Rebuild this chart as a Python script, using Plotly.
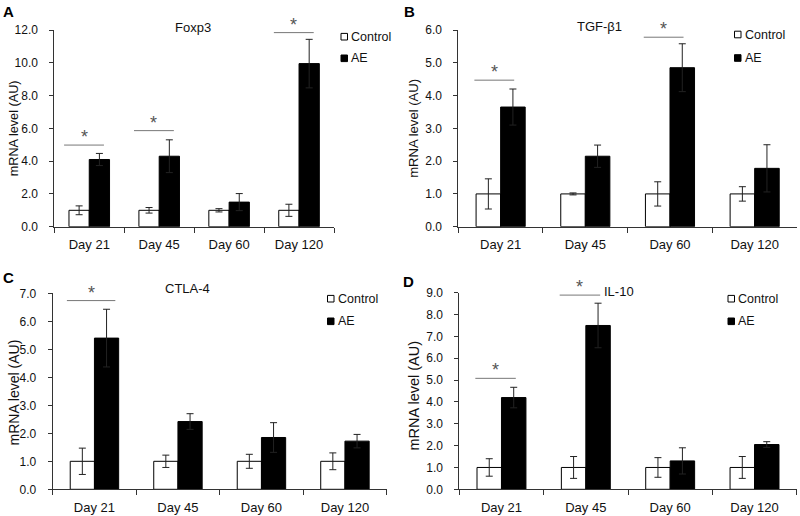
import plotly.graph_objects as go

# ---------------- data ----------------
days = ["Day 21", "Day 45", "Day 60", "Day 120"]

foxp3_ctrl = [1.0, 1.0, 1.0, 1.0]
foxp3_ctrl_err = [0.27, 0.17, 0.10, 0.37]
foxp3_ae = [4.10, 4.30, 1.50, 9.95]
foxp3_ae_err = [0.37, 1.00, 0.52, 1.48]

tgf_ctrl = [1.0, 1.0, 1.0, 1.0]
tgf_ctrl_err = [0.46, 0.03, 0.37, 0.22]
tgf_ae = [3.65, 2.15, 4.85, 1.78]
tgf_ae_err = [0.55, 0.34, 0.73, 0.72]

ctla_ctrl = [1.0, 1.0, 1.0, 1.0]
ctla_ctrl_err = [0.47, 0.22, 0.25, 0.30]
ctla_ae = [5.40, 2.42, 1.85, 1.72]
ctla_ae_err = [1.03, 0.28, 0.53, 0.24]

il10_ctrl = [1.0, 1.0, 1.0, 1.0]
il10_ctrl_err = [0.40, 0.50, 0.45, 0.50]
il10_ae = [4.20, 7.50, 1.30, 2.05]
il10_ae_err = [0.47, 1.02, 0.60, 0.13]

# significance: (day index, bracket height)
foxp3_sig = [(0, 4.98), (1, 5.86), (3, 11.84)]
tgf_sig = [(0, 4.47), (2, 5.78)]
ctla_sig = [(0, 6.74)]
il10_sig = [(0, 5.08), (1, 8.89)]

y_ranges = [12, 6, 7, 9]
y_dticks = [2, 1, 1, 1]
titles = ["Foxp3", "TGF-β1", "CTLA-4", "IL-10"]
letters = ["A", "B", "C", "D"]

# ---------------- layout geometry (px) ----------------
W, H = 800, 516
panels = [
    dict(x0=54.3, x1=334.0, yt=30.0, yb=226.7, title_xy=(193, 28), letter_xy=(8, 11),
         ytitle=(14.0, 128.3, 12.7), leg=(341, 36.7, 58.3), sig_off=(-0.36, 0.21)),
    dict(x0=458.3, x1=797.0, yt=30.0, yb=226.7, title_xy=(599, 27), letter_xy=(409, 11),
         ytitle=(413.5, 128.3, 13.1), leg=(734.5, 34.5, 58.0), sig_off=(-0.31, 0.16)),
    dict(x0=52.7, x1=386.7, yt=293.3, yb=489.3, title_xy=(187.5, 288.3), letter_xy=(8, 277),
         ytitle=(13.0, 392.5, 14.0), leg=(327.5, 298.7, 321.3), sig_off=(-0.33, 0.25)),
    dict(x0=459.3, x1=796.7, yt=292.7, yb=489.3, title_xy=(618.5, 291), letter_xy=(408, 281),
         ytitle=(413.0, 395.5, 14.5), leg=(728, 298.7, 321.3), sig_off=(-0.31, 0.17)),
]

series = [
    (foxp3_ctrl, foxp3_ctrl_err, foxp3_ae, foxp3_ae_err, foxp3_sig),
    (tgf_ctrl, tgf_ctrl_err, tgf_ae, tgf_ae_err, tgf_sig),
    (ctla_ctrl, ctla_ctrl_err, ctla_ae, ctla_ae_err, ctla_sig),
    (il10_ctrl, il10_ctrl_err, il10_ae, il10_ae_err, il10_sig),
]

FONT = "Liberation Sans, Arial, sans-serif"
AXC = "#333333"
fig = go.Figure()
shapes = []
annotations = []
layout = {}

for i, (p, (c, ce, a, ae, sig)) in enumerate(zip(panels, series)):
    n = "" if i == 0 else str(i + 1)
    xa, ya = "x" + n, "y" + n
    err_style = dict(type="data", thickness=1, width=3.5, color="#222222")
    fig.add_trace(go.Bar(x=days, y=c, name="Control", xaxis=xa, yaxis=ya,
                         marker=dict(color="white", line=dict(color="black", width=1)),
                         error_y=dict(array=ce, **err_style), showlegend=False))
    fig.add_trace(go.Bar(x=days, y=a, name="AE", xaxis=xa, yaxis=ya,
                         marker=dict(color="black", line=dict(color="black", width=1)),
                         error_y=dict(array=ae, **err_style), showlegend=False))

    layout["xaxis" + n] = dict(
        domain=[p["x0"] / W, p["x1"] / W], anchor=ya, type="category",
        showline=True, linecolor=AXC, linewidth=1, ticks="outside", tickson="boundaries",
        ticklen=5, tickcolor=AXC, tickfont=dict(size=13, color="#111", family=FONT),
        showgrid=False, zeroline=False, ticklabelstandoff=6, fixedrange=True,
        automargin=False,
    )
    layout["yaxis" + n] = dict(
        domain=[1 - p["yb"] / H, 1 - p["yt"] / H], anchor=xa,
        range=[0, y_ranges[i]], dtick=y_dticks[i], tick0=0, tickformat=".1f",
        showline=True, linecolor=AXC, linewidth=1, ticks="outside", ticklen=4,
        tickcolor=AXC, tickfont=dict(size=12, color="#111", family=FONT),
        showgrid=False, zeroline=False, ticklabelstandoff=9, fixedrange=True,
        automargin=False,
    )

    # significance brackets + stars
    o0, o1 = p["sig_off"]
    for (d, h) in sig:
        shapes.append(dict(type="line", xref=xa, yref=ya, x0=d + o0, x1=d + o1, y0=h, y1=h,
                           line=dict(color="#777777", width=1)))
        annotations.append(dict(xref=xa, yref=ya, x=d + (o0 + o1) / 2, y=h, text="*",
                                showarrow=False, yanchor="bottom", yshift=-4,
                                font=dict(size=18, color="#555555", family=FONT)))

    # panel title
    tx, ty = p["title_xy"]
    annotations.append(dict(xref="paper", yref="paper", x=tx / W, y=1 - ty / H, text=titles[i],
                            showarrow=False, xanchor="center", yanchor="middle",
                            font=dict(size=13, color="#111", family=FONT)))
    # panel letter
    lx, ly = p["letter_xy"]
    annotations.append(dict(xref="paper", yref="paper", x=lx / W, y=1 - ly / H,
                            text="<b>" + letters[i] + "</b>", showarrow=False,
                            xanchor="center", yanchor="middle",
                            font=dict(size=15, color="black", family=FONT)))
    # y-axis title
    yx, yy_c, yfs = p["ytitle"]
    annotations.append(dict(xref="paper", yref="paper", x=yx / W, y=1 - yy_c / H,
                            text="mRNA level (AU)",
                            textangle=-90, showarrow=False, xanchor="center", yanchor="middle",
                            font=dict(size=yfs, color="#111", family=FONT)))
    # legend
    sx, cy, ay = p["leg"]
    for yy, fill, label in [(cy, "white", "Control"), (ay, "black", "AE")]:
        shapes.append(dict(type="rect", xref="paper", yref="paper",
                           x0=sx / W, x1=(sx + 6.5) / W,
                           y0=1 - (yy + 3.3) / H, y1=1 - (yy - 3.3) / H,
                           fillcolor=fill, line=dict(color="black", width=1)))
        annotations.append(dict(xref="paper", yref="paper", x=(sx + 8) / W, y=1 - yy / H,
                                text=label, showarrow=False, xanchor="left", yanchor="middle",
                                font=dict(size=12.5, color="#111", family=FONT)))

fig.update_layout(
    width=W, height=H, margin=dict(l=0, r=0, t=0, b=0, autoexpand=False),
    paper_bgcolor="white", plot_bgcolor="white",
    barmode="group", bargap=0.42, bargroupgap=0,
    showlegend=False, shapes=shapes, annotations=annotations,
    font=dict(family=FONT),
    **layout,
)

fig.write_html("out.html", config={"displayModeBar": False, "staticPlot": True},
               post_script="document.body.style.margin='0px';")
